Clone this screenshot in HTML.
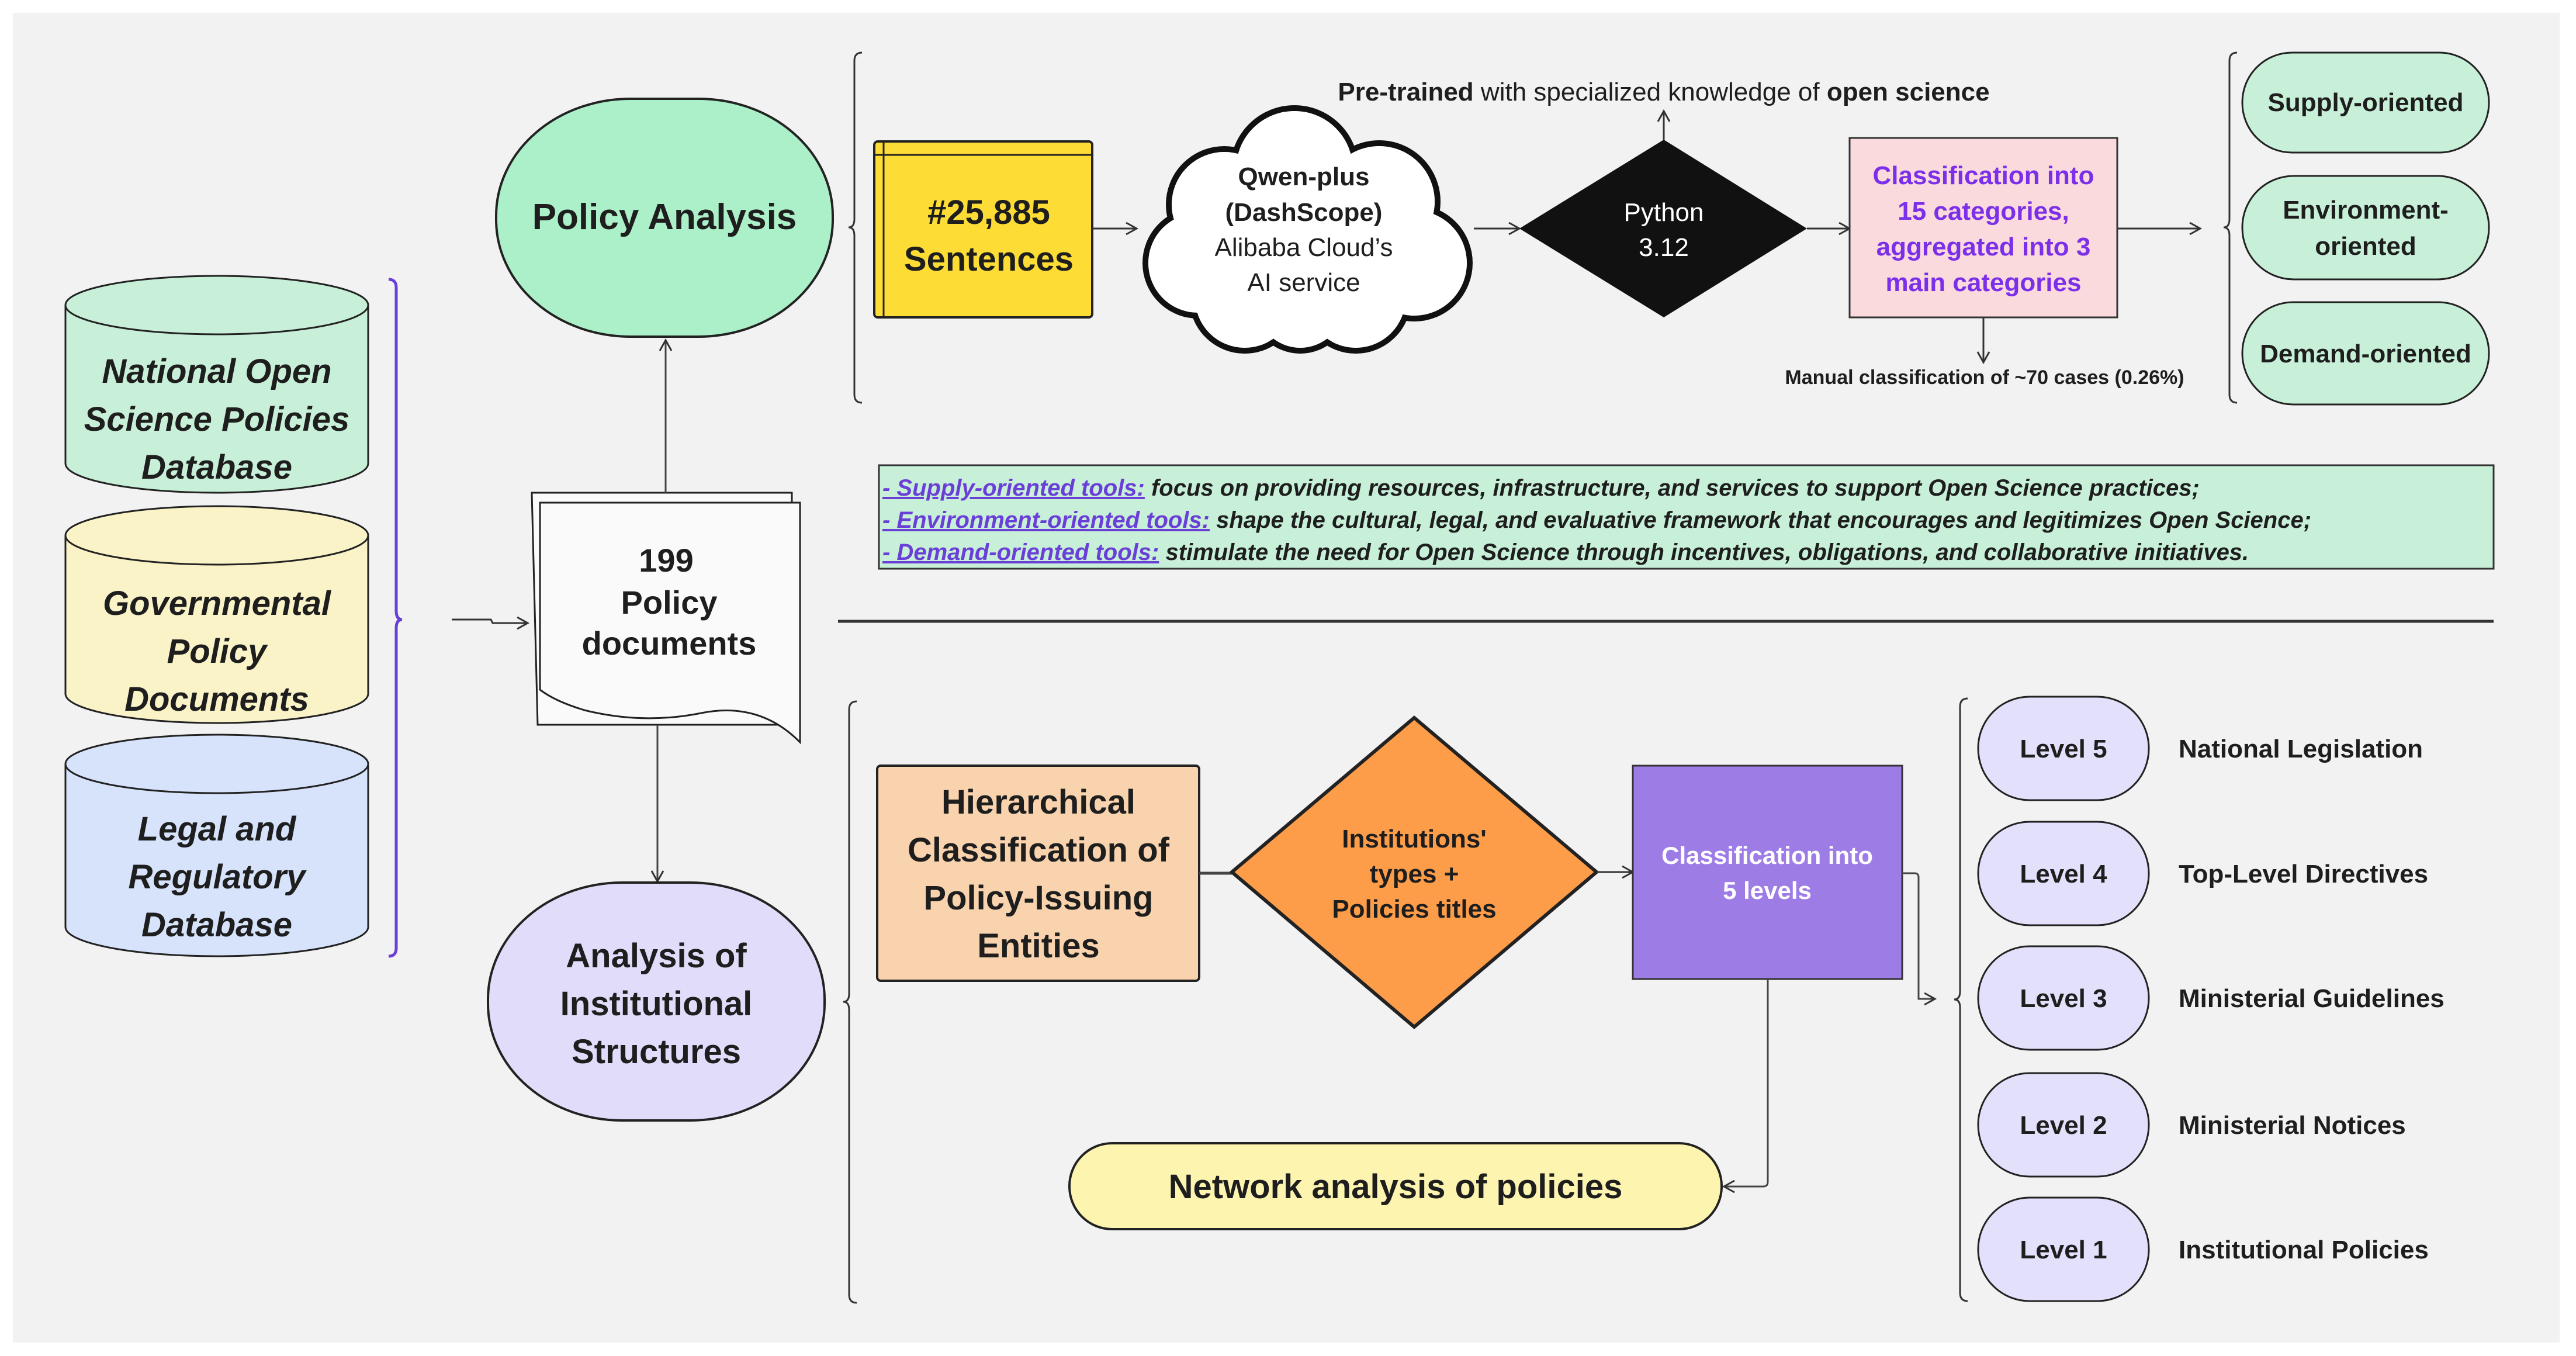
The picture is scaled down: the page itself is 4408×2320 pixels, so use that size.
<!DOCTYPE html>
<html><head><meta charset="utf-8"><style>
html,body{margin:0;padding:0;background:#fff}
svg{display:block}
text{font-family:"Liberation Sans",sans-serif;fill:#1e1e1e}
.b{font-weight:bold}
</style></head><body>
<svg width="4408" height="2320" viewBox="0 0 4408 2320" xmlns="http://www.w3.org/2000/svg">
<defs>
<marker id="ar2" markerWidth="24" markerHeight="24" refX="20" refY="12" orient="auto" markerUnits="userSpaceOnUse">
<path d="M2,2 L20,12 L2,22" fill="none" stroke="#333" stroke-width="3"/></marker>
</defs>
<rect x="22" y="22" width="4358" height="2275" fill="#f2f2f2"/>

<g stroke="#222" stroke-width="3">
<path d="M112,522 L112,793 A259,50 0 0 0 630,793 L630,522" fill="#c8f0d8"/>
<ellipse cx="371" cy="522" rx="259" ry="50" fill="#c8f0d8"/>
<path d="M112,916 L112,1187 A259,50 0 0 0 630,1187 L630,916" fill="#faf3c8"/>
<ellipse cx="371" cy="916" rx="259" ry="50" fill="#faf3c8"/>
<path d="M112,1307 L112,1586 A259,50 0 0 0 630,1586 L630,1307" fill="#d7e3fb"/>
<ellipse cx="371" cy="1307" rx="259" ry="50" fill="#d7e3fb"/>
</g>
<g class="b" font-size="58" font-style="italic" text-anchor="middle">
<text x="371" y="655" class="b">National Open</text>
<text x="371" y="737" class="b">Science Policies</text>
<text x="371" y="819" class="b">Database</text>
<text x="371" y="1052" class="b">Governmental</text>
<text x="371" y="1134" class="b">Policy</text>
<text x="371" y="1216" class="b">Documents</text>
<text x="371" y="1438" class="b">Legal and</text>
<text x="371" y="1520" class="b">Regulatory</text>
<text x="371" y="1602" class="b">Database</text>
</g>
<path d="M665,478 Q678,478 678,492 L678,1045 Q678,1060 688,1060 Q678,1060 678,1075 L678,1622 Q678,1636 665,1636" fill="none" stroke="#6a3fd8" stroke-width="5"/>
<path d="M773,1060 L840,1060 L843,1066 L903,1066" fill="none" stroke="#333" stroke-width="3" marker-end="url(#ar2)"/>

<path d="M910,843 L1355,843 L1355,1240 L920,1240 Z" fill="#fafafa" stroke="#222" stroke-width="3"/>
<path d="M924,860 L1369,860 L1369,1270 Q1300,1200 1200,1220 Q1100,1240 1000,1215 Q950,1200 924,1180 Z" fill="#fafafa" stroke="#222" stroke-width="3"/>
<g font-size="56" text-anchor="middle"><text x="1140" y="978" class="b">199</text><text x="1145" y="1050" class="b">Policy</text><text x="1145" y="1120" class="b">documents</text></g>
<line x1="1139" y1="843" x2="1139" y2="582" stroke="#444" stroke-width="3" marker-end="url(#ar2)"/>
<line x1="1125" y1="1240" x2="1125" y2="1508" stroke="#444" stroke-width="3" marker-end="url(#ar2)"/>

<rect x="849" y="169" width="576" height="407" rx="230" ry="200" fill="#abf0c8" stroke="#222" stroke-width="4"/>
<text x="1137" y="392" font-size="62" text-anchor="middle" class="b">Policy Analysis</text>
<rect x="835" y="1510" width="576" height="407" rx="230" ry="200" fill="#e0dcfa" stroke="#222" stroke-width="4"/>
<g font-size="58" text-anchor="middle"><text x="1123" y="1655" class="b">Analysis of</text><text x="1123" y="1737" class="b">Institutional</text><text x="1123" y="1819" class="b">Structures</text></g>

<path d="M1475,90 Q1462,90 1462,104 L1462,375 Q1462,389 1452,389 Q1462,389 1462,403 L1462,675 Q1462,689 1475,689" fill="none" stroke="#333" stroke-width="3"/>
<path d="M3828,90 Q3815,90 3815,104 L3815,375 Q3815,389 3805,389 Q3815,389 3815,403 L3815,675 Q3815,689 3828,689" fill="none" stroke="#333" stroke-width="3"/>

<rect x="1496" y="242" width="373" height="301" rx="6" fill="#fddc35" stroke="#222" stroke-width="4"/>
<line x1="1496" y1="265" x2="1869" y2="265" stroke="#222" stroke-width="3"/>
<line x1="1512" y1="242" x2="1512" y2="543" stroke="#222" stroke-width="3"/>
<g font-size="58" text-anchor="middle"><text x="1692" y="383" class="b">#25,885</text><text x="1692" y="463" class="b">Sentences</text></g>
<line x1="1869" y1="391" x2="1945" y2="391" stroke="#333" stroke-width="3" marker-end="url(#ar2)"/>

<g stroke="#111" stroke-width="10" fill="#fff">
<circle cx="2215" cy="290" r="105"/><circle cx="2095" cy="350" r="95"/><circle cx="2360" cy="345" r="100"/>
<circle cx="2050" cy="450" r="90"/><circle cx="2420" cy="450" r="95"/><circle cx="2130" cy="510" r="90"/>
<circle cx="2320" cy="510" r="90"/><circle cx="2225" cy="520" r="80"/>
</g>
<g fill="#fff">
<circle cx="2215" cy="290" r="100"/><circle cx="2095" cy="350" r="90"/><circle cx="2360" cy="345" r="95"/>
<circle cx="2050" cy="450" r="85"/><circle cx="2420" cy="450" r="90"/><circle cx="2130" cy="510" r="85"/>
<circle cx="2320" cy="510" r="85"/><circle cx="2225" cy="520" r="75"/><circle cx="2230" cy="410" r="160"/>
</g>
<g font-size="44" text-anchor="middle"><text x="2231" y="317" class="b">Qwen-plus</text><text x="2231" y="378" class="b">(DashScope)</text><text x="2231" y="438">Alibaba Cloud’s</text><text x="2231" y="498">AI service</text></g>
<line x1="2522" y1="391" x2="2600" y2="391" stroke="#333" stroke-width="3" marker-end="url(#ar2)"/>

<polygon points="2847,239 3092,391 2847,543 2600,391" fill="#111"/>
<g font-size="44" text-anchor="middle"><text x="2847" y="378" style="fill:#fff">Python</text><text x="2847" y="438" style="fill:#fff">3.12</text></g>
<line x1="2847" y1="239" x2="2847" y2="190" stroke="#333" stroke-width="3" marker-end="url(#ar2)"/>
<text x="2847" y="172" font-size="44" text-anchor="middle"><tspan class="b">Pre-trained</tspan> with specialized knowledge of <tspan class="b">open science</tspan></text>
<line x1="3092" y1="391" x2="3165" y2="391" stroke="#333" stroke-width="3" marker-end="url(#ar2)"/>

<rect x="3165" y="236" width="458" height="307" fill="#fadadd" stroke="#333" stroke-width="3"/>
<g font-size="44" text-anchor="middle"><text x="3394" y="315" class="b" style="fill:#7b2fe8">Classification into</text><text x="3394" y="376" class="b" style="fill:#7b2fe8">15 categories,</text><text x="3394" y="437" class="b" style="fill:#7b2fe8">aggregated into 3</text><text x="3394" y="498" class="b" style="fill:#7b2fe8">main categories</text></g>
<line x1="3394" y1="543" x2="3394" y2="620" stroke="#333" stroke-width="3" marker-end="url(#ar2)"/>
<text x="3396" y="657" font-size="34" text-anchor="middle" class="b">Manual classification of ~70 cases (0.26%)</text>
<line x1="3623" y1="391" x2="3765" y2="391" stroke="#333" stroke-width="3" marker-end="url(#ar2)"/>

<g fill="#c8f0d8" stroke="#222" stroke-width="3">
<rect x="3837" y="90" width="422" height="171" rx="85"/>
<rect x="3837" y="301" width="422" height="177" rx="88"/>
<rect x="3837" y="517" width="422" height="175" rx="87"/>
</g>
<g font-size="44" text-anchor="middle"><text x="4048" y="190" class="b">Supply-oriented</text><text x="4048" y="374" class="b">Environment-</text><text x="4048" y="436" class="b">oriented</text><text x="4048" y="620" class="b">Demand-oriented</text></g>

<rect x="1504" y="796" width="2763" height="177" fill="#c8f0d8" stroke="#333" stroke-width="3"/>
<g font-size="40" font-style="italic">
<text x="1510" y="848" class="b"><tspan style="fill:#6a3fd8;text-decoration:underline">- Supply-oriented tools:</tspan> focus on providing resources, infrastructure, and services to support Open Science practices;</text>
<text x="1510" y="903" class="b"><tspan style="fill:#6a3fd8;text-decoration:underline">- Environment-oriented tools:</tspan> shape the cultural, legal, and evaluative framework that encourages and legitimizes Open Science;</text>
<text x="1510" y="958" class="b"><tspan style="fill:#6a3fd8;text-decoration:underline">- Demand-oriented tools:</tspan> stimulate the need for Open Science through incentives, obligations, and collaborative initiatives.</text>
</g>
<line x1="1434" y1="1063" x2="4267" y2="1063" stroke="#333" stroke-width="5"/>

<path d="M1466,1200 Q1453,1200 1453,1214 L1453,1700 Q1453,1714 1443,1714 Q1453,1714 1453,1728 L1453,2215 Q1453,2229 1466,2229" fill="none" stroke="#333" stroke-width="3"/>
<rect x="1501" y="1310" width="551" height="368" rx="6" fill="#f8d3ae" stroke="#222" stroke-width="4"/>
<g font-size="58" text-anchor="middle"><text x="1777" y="1392" class="b">Hierarchical</text><text x="1777" y="1474" class="b">Classification of</text><text x="1777" y="1556" class="b">Policy-Issuing</text><text x="1777" y="1638" class="b">Entities</text></g>
<line x1="2052" y1="1494" x2="2108" y2="1494" stroke="#444" stroke-width="5"/>
<polygon points="2420,1228 2732,1492 2420,1757 2108,1492" fill="#fd9d4a" stroke="#222" stroke-width="6"/>
<g font-size="44" text-anchor="middle"><text x="2420" y="1450" class="b">Institutions'</text><text x="2420" y="1510" class="b">types +</text><text x="2420" y="1570" class="b">Policies titles</text></g>
<line x1="2732" y1="1492" x2="2794" y2="1492" stroke="#333" stroke-width="3" marker-end="url(#ar2)"/>
<rect x="2794" y="1310" width="461" height="365" fill="#9d7ce6" stroke="#333" stroke-width="3"/>
<g font-size="42" text-anchor="middle"><text x="3024" y="1478" class="b" style="fill:#fff">Classification into</text><text x="3024" y="1538" class="b" style="fill:#fff">5 levels</text></g>
<path d="M3025,1675 L3025,2022 Q3025,2030 3017,2030 L2950,2030" fill="none" stroke="#444" stroke-width="3" marker-end="url(#ar2)"/>
<path d="M3255,1494 L3276,1494 Q3283,1494 3283,1501 L3283,1709 L3311,1709" fill="none" stroke="#444" stroke-width="3" marker-end="url(#ar2)"/>
<rect x="1830" y="1956" width="1116" height="147" rx="73" fill="#fdf4b0" stroke="#222" stroke-width="4"/>
<text x="2388" y="2050" font-size="58" text-anchor="middle" class="b">Network analysis of policies</text>

<path d="M3367,1195 Q3354,1195 3354,1209 L3354,1696 Q3354,1710 3344,1710 Q3354,1710 3354,1724 L3354,2212 Q3354,2226 3367,2226" fill="none" stroke="#333" stroke-width="3"/>
<g fill="#e3e0fb" stroke="#222" stroke-width="3">
<rect x="3385" y="1192" width="292" height="177" rx="88"/>
<rect x="3385" y="1406" width="292" height="177" rx="88"/>
<rect x="3385" y="1619" width="292" height="177" rx="88"/>
<rect x="3385" y="1836" width="292" height="177" rx="88"/>
<rect x="3385" y="2049" width="292" height="177" rx="88"/>
</g>
<g font-size="44">
<text x="3531" y="1296" text-anchor="middle" class="b">Level 5</text>
<text x="3531" y="1510" text-anchor="middle" class="b">Level 4</text>
<text x="3531" y="1723" text-anchor="middle" class="b">Level 3</text>
<text x="3531" y="1940" text-anchor="middle" class="b">Level 2</text>
<text x="3531" y="2153" text-anchor="middle" class="b">Level 1</text>
<text x="3728" y="1296" class="b">National Legislation</text>
<text x="3728" y="1510" class="b">Top-Level Directives</text>
<text x="3728" y="1723" class="b">Ministerial Guidelines</text>
<text x="3728" y="1940" class="b">Ministerial Notices</text>
<text x="3728" y="2153" class="b">Institutional Policies</text>
</g>
</svg>
</body></html>
